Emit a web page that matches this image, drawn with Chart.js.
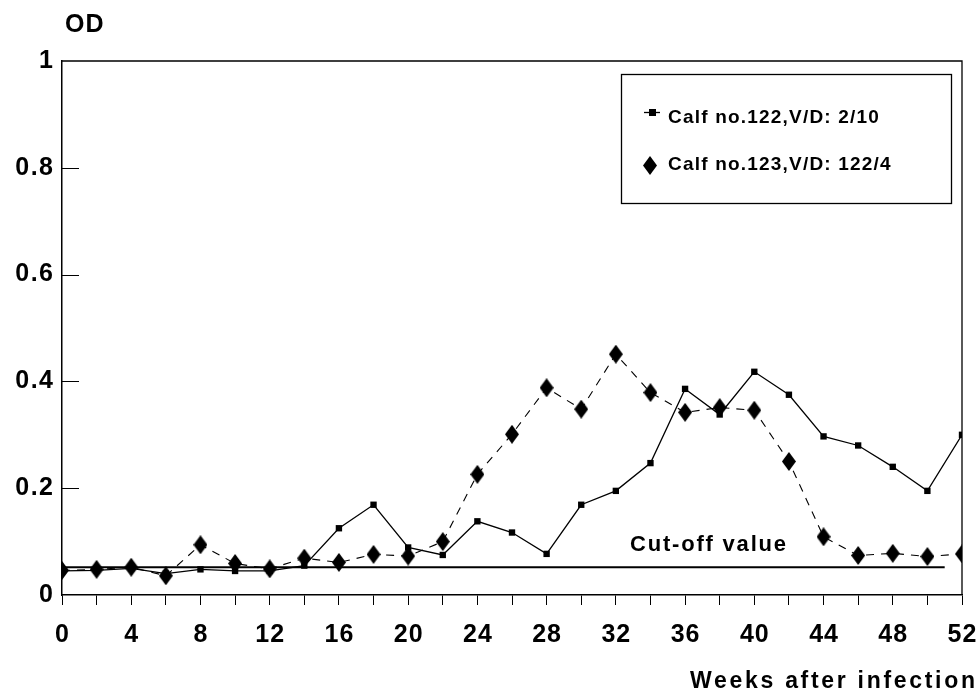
<!DOCTYPE html>
<html>
<head>
<meta charset="utf-8">
<script src="https://cdn.jsdelivr.net/npm/chart.js@4.4.1/dist/chart.umd.min.js"></script>
<style>
  html, body { margin: 0; padding: 0; background: #ffffff; }
  #wrap { width: 977px; height: 696px; }
</style>
</head>
<body>
<div id="wrap"><canvas id="c" width="977" height="696"></canvas></div>
<script>
// ---- Data ----
const weeks = [0,2,4,6,8,10,12,14,16,18,20,22,24,26,28,30,32,34,36,38,40,42,44,46,48,50,52];
const calf122 = [0.045,0.046,0.050,0.040,0.048,0.045,0.045,0.055,0.125,0.169,0.089,0.075,0.138,0.117,0.077,0.169,0.195,0.247,0.386,0.338,0.418,0.375,0.297,0.280,0.240,0.195,0.300];
const calf123 = [0.046,0.048,0.052,0.036,0.094,0.059,0.049,0.069,0.061,0.076,0.073,0.100,0.226,0.301,0.388,0.348,0.451,0.379,0.342,0.351,0.346,0.250,0.109,0.074,0.078,0.072,0.077];
const cutoffWeeks = [0, 51];
const cutoffValue = 0.052;
const seriesLabels = ["Calf no.122,V/D: 2/10", "Calf no.123,V/D: 122/4"];
const xTickLabels = [0,4,8,12,16,20,24,28,32,36,40,44,48,52];
const yTickLabels = ["0","0.2","0.4","0.6","0.8","1"];
const yTitle = "OD";
const xTitle = "Weeks after infection";
const cutoffLabel = "Cut-off value";

const FONT = "'Liberation Sans', Arial, Helvetica, sans-serif";

// diamond marker
function makeDiamond(w, h) {
  const cv = document.createElement('canvas');
  cv.width = w; cv.height = h;
  const g = cv.getContext('2d');
  g.fillStyle = '#000';
  g.beginPath();
  g.moveTo(w/2, 0); g.lineTo(w, h/2); g.lineTo(w/2, h); g.lineTo(0, h/2);
  g.closePath(); g.fill();
  return cv;
}
const diamond = makeDiamond(14, 19);

const ds1 = weeks.map((w,i)=>({x:w, y:calf122[i]}));
const ds2 = weeks.map((w,i)=>({x:w, y:calf123[i]}));
const dsCut = cutoffWeeks.map(w=>({x:w, y:cutoffValue}));

function drawText(ctx, text, x, y, size, spacing, align) {
  ctx.save();
  ctx.font = "bold " + size + "px " + FONT;
  ctx.fillStyle = '#000';
  ctx.textBaseline = 'middle';
  ctx.letterSpacing = spacing + 'px';
  let w = ctx.measureText(text).width - spacing;
  let sx = x;
  if (align === 'right') sx = x - w;
  else if (align === 'center') sx = x - w/2;
  ctx.textAlign = 'left';
  ctx.fillText(text, sx, y);
  ctx.restore();
}

const decor = {
  id: 'decor',
  afterDraw(chart) {
    const ctx = chart.ctx;
    const a = chart.chartArea;
    const xs = chart.scales.x, ys = chart.scales.y;
    ctx.save();
    ctx.strokeStyle = '#000';
    // box top + right
    ctx.lineWidth = 1.3;
    ctx.beginPath();
    ctx.moveTo(a.left, a.top); ctx.lineTo(a.right, a.top); ctx.lineTo(a.right, a.bottom);
    ctx.stroke();
    // inward y ticks
    ctx.lineWidth = 1;
    [0.2,0.4,0.6,0.8].forEach(v => {
      const py = Math.round(ys.getPixelForValue(v)) + 0.5;
      ctx.beginPath(); ctx.moveTo(a.left, py); ctx.lineTo(a.left + 17, py); ctx.stroke();
    });
    ctx.restore();
    // y tick labels
    yTickLabels.forEach(t => {
      drawText(ctx, t, a.left - 9, ys.getPixelForValue(parseFloat(t)), 25, 1.5, 'right');
    });
    // x tick labels
    xTickLabels.forEach(t => {
      drawText(ctx, String(t), xs.getPixelForValue(t), 635, 25, 1, 'center');
    });
    // titles
    drawText(ctx, yTitle, 65, 25, 25, 1, 'left');
    drawText(ctx, xTitle, 975, 682, 23, 2.7, 'right');
    drawText(ctx, cutoffLabel, 630, 545, 22, 1.8, 'left');
    // legend
    ctx.save();
    ctx.strokeStyle = '#000';
    ctx.lineWidth = 1.3;
    ctx.strokeRect(621.5, 74.5, 330, 129);
    // entry 1
    ctx.lineWidth = 1.3;
    ctx.beginPath(); ctx.moveTo(644, 112.5); ctx.lineTo(660, 112.5); ctx.stroke();
    ctx.fillStyle = '#000';
    ctx.fillRect(649, 109, 7, 7);
    ctx.drawImage(diamond, 643, 156);
    ctx.restore();
    drawText(ctx, seriesLabels[0], 668, 118, 19, 1.2, 'left');
    drawText(ctx, seriesLabels[1], 668, 165, 19, 1.2, 'left');
  }
};

new Chart(document.getElementById('c'), {
  type: 'line',
  data: {
    datasets: [
      { label: seriesLabels[0], data: ds1, borderColor: '#000', backgroundColor: '#000', borderWidth: 1.3,
        pointStyle: 'rect', pointRadius: 4.5, pointBorderWidth: 0, tension: 0, order: 2 },
      { label: seriesLabels[1], data: ds2, borderColor: '#000', backgroundColor: '#000', borderWidth: 1.1,
        borderDash: [8, 7], pointStyle: diamond, pointRadius: 8, tension: 0, order: 1 },
      { label: cutoffLabel, data: dsCut, borderColor: '#000', borderWidth: 2, pointRadius: 0, tension: 0, order: 3 }
    ]
  },
  options: {
    responsive: false,
    animation: false,
    devicePixelRatio: 1,
    layout: { padding: { top: 61, right: 15, left: 0, bottom: 0 } },
    plugins: { legend: { display: false }, tooltip: { enabled: false } },
    scales: {
      x: {
        type: 'linear', min: 0, max: 52,
        ticks: { stepSize: 2, autoSkip: false, maxRotation: 0, display: true, color: 'rgba(0,0,0,0)',
                 callback: v => '' },
        grid: { drawOnChartArea: false, drawTicks: true, tickLength: 10, color: '#000', lineWidth: 1 },
        border: { display: true, color: '#000', width: 1.5 },
        afterFit(s) { s.height = 101; }
      },
      y: {
        min: 0, max: 1,
        ticks: { stepSize: 0.2, display: true, color: 'rgba(0,0,0,0)', callback: v => '' },
        grid: { drawOnChartArea: false, drawTicks: false },
        border: { display: true, color: '#000', width: 1.5 },
        afterFit(s) { s.width = 62; }
      }
    }
  },
  plugins: [decor]
});
</script>
</body>
</html>
